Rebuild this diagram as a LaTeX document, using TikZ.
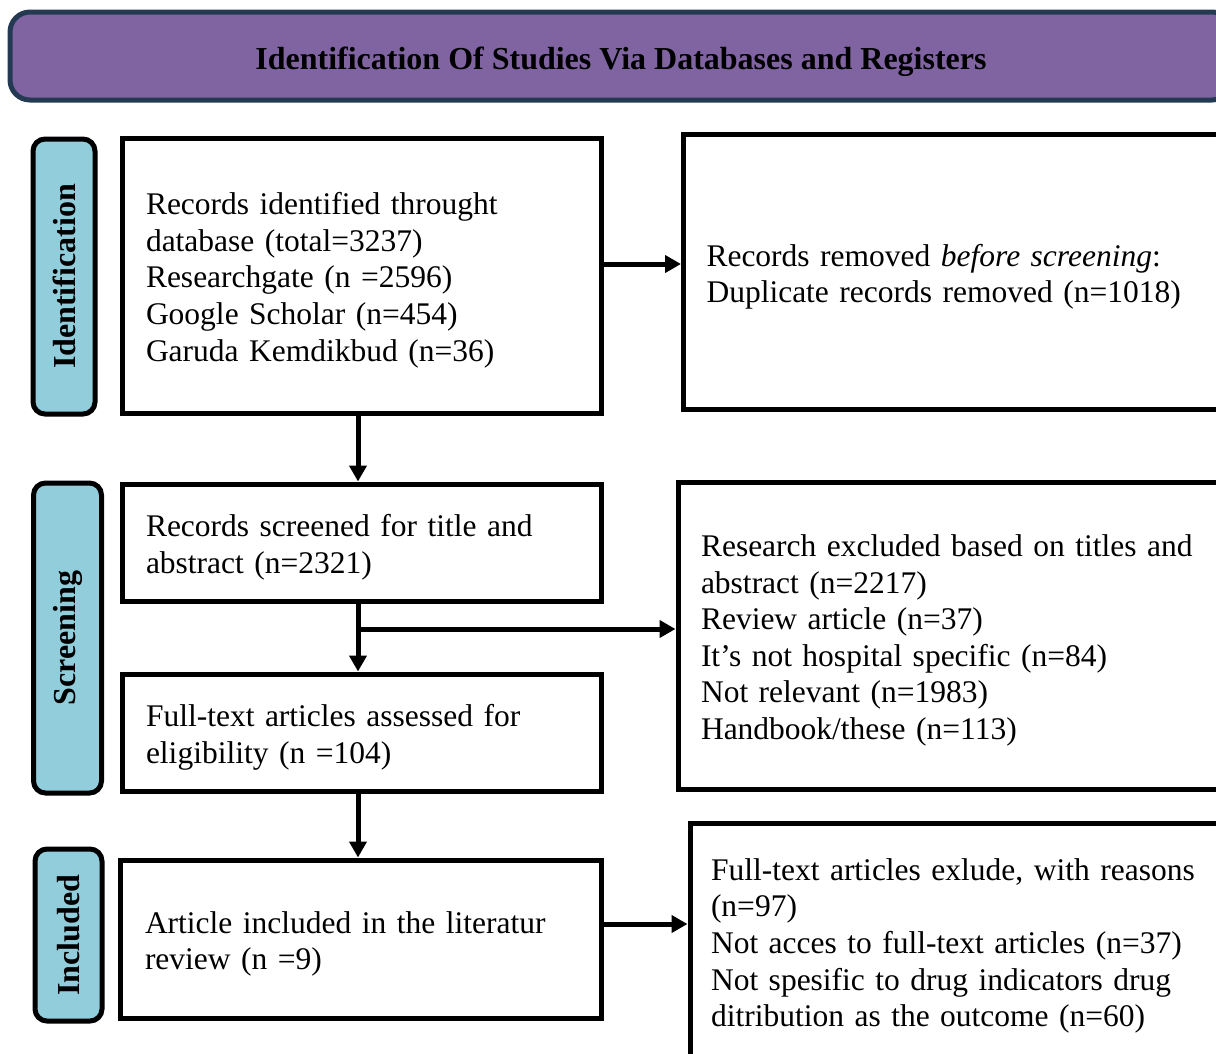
\documentclass[tikz,border=0pt]{standalone}
\usepackage{fontspec}
\setmainfont{Liberation Serif}
\usetikzlibrary{arrows.meta}
\definecolor{hdrfill}{HTML}{8064A2}
\definecolor{hdrline}{HTML}{243A52}
\definecolor{sidefill}{HTML}{92CDDC}
\tikzset{
  every node/.style={font=\fontsize{31.5}{36.6}\selectfont},
  header/.style={draw=hdrline, line width=5pt, fill=hdrfill, rounded corners=20pt,
    inner sep=0pt, font=\fontsize{32}{36.6}\selectfont\bfseries},
  phase/.style={draw=black, line width=5pt, fill=sidefill, rounded corners=12pt,
    inner sep=0pt, rotate=90, font=\fontsize{32}{36.6}\selectfont\bfseries},
  flowbox/.style={draw=black, line width=5pt, fill=white, align=left, inner ysep=0pt,
    execute at begin node={\rule{0pt}{31.5pt}}},
  arr/.style={line width=5pt, -{Triangle[length=16pt,width=17pt]}}
}
\begin{document}
\begin{tikzpicture}[x=1pt,y=-1pt]
\useasboundingbox (0,0) rectangle (1216,1053);
% header
\node[header, minimum width=1222pt, minimum height=88pt] (hdr) at (621,56)
  {\raisebox{-6pt}[\height][\depth]{Identification Of Studies Via Databases and Registers}};
% phase labels
\node[phase, minimum width=275pt, minimum height=62pt] (pid) at (64,276.5) {Identification};
\node[phase, minimum width=310pt, minimum height=68pt] (pscr) at (67.5,638) {Screening};
\node[phase, minimum width=172pt, minimum height=67pt] (pinc) at (68.5,935) {Included};
% left boxes
\node[flowbox, minimum height=275pt, inner xsep=24pt, text width=431pt] (b1) at (361.5,275.5)
  {Records identified throught\\database (total=3237)\\Researchgate (n =2596)\\Google Scholar (n=454)\\Garuda Kemdikbud (n=36)};
\node[flowbox, minimum height=117pt, inner xsep=24pt, text width=431pt] (b2) at (361.5,542.5)
  {Records screened for title and\\abstract (n=2321)};
\node[flowbox, minimum height=117pt, inner xsep=24pt, text width=431pt] (b3) at (361.5,732.5)
  {Full-text articles assessed for\\eligibility (n =104)};
\node[flowbox, minimum height=158pt, inner xsep=25pt, text width=431pt] (b4) at (360.5,939)
  {Article included in the literatur\\review (n =9)};
% right boxes
\node[flowbox, minimum height=275pt, inner xsep=23pt, text width=500pt] (r1) at (956.5,272)
  {Records removed \textit{before screening}:\\Duplicate records removed (n=1018)};
\node[flowbox, minimum height=307pt, inner xsep=23pt, text width=506pt] (r2) at (954,635.5)
  {Research excluded based on titles and\\abstract (n=2217)\\Review article (n=37)\\It’s not hospital specific (n=84)\\Not relevant (n=1983)\\Handbook/these (n=113)};
\node[flowbox, minimum height=236pt, inner xsep=21pt, text width=498pt] (r3) at (960,941)
  {Full-text articles exlude, with reasons\\(n=97)\\Not acces to full-text articles (n=37)\\Not spesific to drug indicators drug\\ditribution as the outcome (n=60)};
% helper coordinates
\coordinate (xa) at (358,0);
\coordinate (ya) at (0,264);
\coordinate (yb) at (0,629);
\coordinate (yc) at (0,924);
% connectors
\draw[arr] (b1.east |- ya) -- (r1.west |- ya);
\draw[arr] (b1.south -| xa) -- (b2.north -| xa);
\draw[arr] (b2.south -| xa) -- (b3.north -| xa);
\draw[arr] (xa |- yb) -- (r2.west |- yb);
\draw[arr] (b3.south -| xa) -- (b4.north -| xa);
\draw[arr] (b4.east |- yc) -- (r3.west |- yc);
\end{tikzpicture}
\end{document}
